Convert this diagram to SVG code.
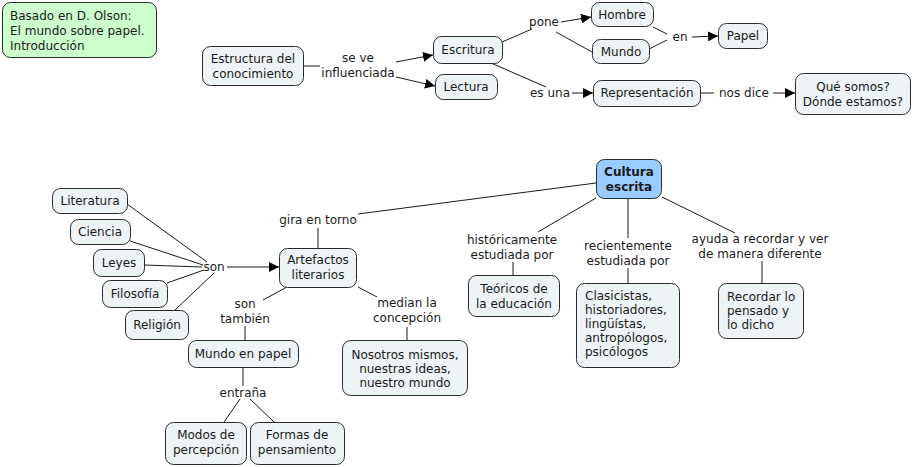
<svg xmlns="http://www.w3.org/2000/svg" width="914" height="467" viewBox="0 0 914 467">
<style>
.n rect{fill:#eef3f5;stroke:#2a2a2a;stroke-width:1}
.n text,.l text{font-family:"DejaVu Sans",Verdana,sans-serif;font-size:12px;fill:#1a1a1a;text-anchor:middle}
.n text.left{text-anchor:start}
#cultura rect{fill:#99ccff}
#cultura text{font-weight:bold}
#nota rect{fill:#ccffcc}
#conns line{stroke:#1a1a1a;stroke-width:1}
#conns line.a{marker-end:url(#arr)}
</style>
<defs>
<marker id="arr" viewBox="0 0 10 10" refX="10" refY="5" markerWidth="10" markerHeight="10" markerUnits="userSpaceOnUse" orient="auto">
<path d="M0,0 L10,5 L0,10 z" fill="#000"/>
</marker>
</defs>
<rect width="914" height="467" fill="#fff"/>
<g id="conns">
<line x1="303" y1="66" x2="320" y2="66"/>
<line class="a" x1="396" y1="62" x2="433" y2="55"/>
<line class="a" x1="396" y1="77" x2="435" y2="86"/>
<line x1="502" y1="42" x2="532" y2="29"/>
<line class="a" x1="561" y1="22" x2="591" y2="17"/>
<line x1="556" y1="32" x2="592" y2="52"/>
<line x1="653" y1="27" x2="667" y2="34"/>
<line x1="649" y1="49" x2="667" y2="40"/>
<line class="a" x1="692" y1="37" x2="718" y2="36"/>
<line x1="491" y1="63" x2="546" y2="87"/>
<line class="a" x1="572" y1="93" x2="593" y2="93"/>
<line x1="700" y1="93" x2="714" y2="93"/>
<line class="a" x1="773" y1="93" x2="795" y2="93"/>
<line x1="358" y1="214" x2="596" y2="183"/>
<line x1="318" y1="228" x2="318" y2="248"/>
<line x1="127" y1="204" x2="207" y2="262"/>
<line x1="130" y1="241" x2="203" y2="265"/>
<line x1="144" y1="265" x2="202" y2="267"/>
<line x1="167" y1="283" x2="204" y2="270"/>
<line x1="175" y1="310" x2="214" y2="273"/>
<line class="a" x1="227" y1="267" x2="279" y2="267"/>
<line x1="287" y1="287" x2="263" y2="300"/>
<line x1="245" y1="326" x2="245" y2="340"/>
<line x1="358" y1="287" x2="377" y2="297"/>
<line x1="407" y1="327" x2="407" y2="340"/>
<line x1="243" y1="367" x2="243" y2="386"/>
<line x1="240" y1="399" x2="224" y2="422"/>
<line x1="250" y1="399" x2="274" y2="422"/>
<line x1="596" y1="198" x2="538" y2="232"/>
<line x1="513" y1="262" x2="513" y2="275"/>
<line x1="628" y1="198" x2="628" y2="238"/>
<line x1="628" y1="268" x2="628" y2="283"/>
<line x1="662" y1="197" x2="735" y2="233"/>
<line x1="762" y1="261" x2="762" y2="283"/>
</g>
<g id="labels" class="l">
<text x="358" y="62">se ve</text><text x="358" y="77">influenciada</text>
<text x="544" y="26">pone</text>
<text x="680" y="41">en</text>
<text x="550" y="97">es una</text>
<text x="744" y="97">nos dice</text>
<text x="318" y="224">gira en torno</text>
<text x="214" y="271">son</text>
<text x="245" y="308">son</text><text x="245" y="323">también</text>
<text x="407" y="307">median la</text><text x="407" y="322">concepción</text>
<text x="243" y="397">entraña</text>
<text x="512" y="244">históricamente</text><text x="512" y="259">estudiada por</text>
<text x="628" y="250">recientemente</text><text x="628" y="265">estudiada por</text>
<text x="760" y="243">ayuda a recordar y ver</text><text x="760" y="258">de manera diferente</text>
</g>
<g id="nota" class="n"><rect x="2.5" y="2.5" width="154" height="55" rx="8"/>
<text class="left" x="10" y="20">Basado en D. Olson:</text><text class="left" x="10" y="35">El mundo sobre papel.</text><text class="left" x="10" y="50">Introducción</text></g>
<g id="estructura" class="n"><rect x="202.5" y="46.5" width="101" height="39" rx="8"/>
<text x="253" y="63">Estructura del</text><text x="253" y="78">conocimiento</text></g>
<g id="escritura" class="n"><rect x="433.5" y="36.5" width="69" height="27" rx="8"/><text x="468" y="54">Escritura</text></g>
<g id="lectura" class="n"><rect x="435.5" y="74.5" width="62" height="25" rx="8"/><text x="466" y="91">Lectura</text></g>
<g id="hombre" class="n"><rect x="591.5" y="2.5" width="62" height="24" rx="8"/><text x="622" y="19">Hombre</text></g>
<g id="mundo" class="n"><rect x="592.5" y="39.5" width="57" height="24" rx="8"/><text x="621" y="56">Mundo</text></g>
<g id="papel" class="n"><rect x="718.5" y="23.5" width="49" height="25" rx="8"/><text x="743" y="40">Papel</text></g>
<g id="representacion" class="n"><rect x="593.5" y="80.5" width="107" height="26" rx="8"/><text x="647" y="97">Representación</text></g>
<g id="quesomos" class="n"><rect x="795.5" y="73.5" width="115" height="41" rx="8"/>
<text x="853" y="91">Qué somos?</text><text x="853" y="106">Dónde estamos?</text></g>
<g id="cultura" class="n"><rect x="596.5" y="159.5" width="65" height="39" rx="8"/>
<text x="629" y="176">Cultura</text><text x="629" y="191">escrita</text></g>
<g id="literatura" class="n"><rect x="52.5" y="188.5" width="75" height="25" rx="8"/><text x="90" y="205">Literatura</text></g>
<g id="ciencia" class="n"><rect x="70.5" y="219.5" width="60" height="25" rx="8"/><text x="100" y="236">Ciencia</text></g>
<g id="leyes" class="n"><rect x="93.5" y="249.5" width="51" height="27" rx="8"/><text x="119" y="267">Leyes</text></g>
<g id="filosofia" class="n"><rect x="102.5" y="280.5" width="65" height="27" rx="8"/><text x="135" y="298">Filosofía</text></g>
<g id="religion" class="n"><rect x="125.5" y="310.5" width="63" height="29" rx="8"/><text x="157" y="329">Religión</text></g>
<g id="artefactos" class="n"><rect x="279.5" y="248.5" width="77" height="39" rx="8"/>
<text x="318" y="264">Artefactos</text><text x="318" y="279">literarios</text></g>
<g id="mundopapel" class="n"><rect x="188.5" y="340.5" width="110" height="27" rx="8"/><text x="243" y="358">Mundo en papel</text></g>
<g id="nosotros" class="n"><rect x="342.5" y="340.5" width="125" height="55" rx="8"/>
<text x="405" y="359">Nosotros mismos,</text><text x="405" y="373">nuestras ideas,</text><text x="405" y="387">nuestro mundo</text></g>
<g id="modos" class="n"><rect x="165.5" y="422.5" width="81" height="42" rx="8"/>
<text x="206" y="439">Modos de</text><text x="206" y="454">percepción</text></g>
<g id="formas" class="n"><rect x="250.5" y="422.5" width="94" height="42" rx="8"/>
<text x="297" y="439">Formas de</text><text x="297" y="454">pensamiento</text></g>
<g id="teoricos" class="n"><rect x="468.5" y="275.5" width="91" height="41" rx="8"/>
<text x="514" y="293">Teóricos de</text><text x="514" y="308">la educación</text></g>
<g id="clasicistas" class="n"><rect x="576.5" y="283.5" width="103" height="84" rx="8"/>
<text class="left" x="585" y="300">Clasicistas,</text><text class="left" x="585" y="314">historiadores,</text><text class="left" x="585" y="328">lingüístas,</text><text class="left" x="585" y="342">antropólogos,</text><text class="left" x="585" y="356">psicólogos</text></g>
<g id="recordar" class="n"><rect x="718.5" y="283.5" width="85" height="55" rx="8"/>
<text class="left" x="727" y="301">Recordar lo</text><text class="left" x="727" y="315">pensado y</text><text class="left" x="727" y="329">lo dicho</text></g>
</svg>
